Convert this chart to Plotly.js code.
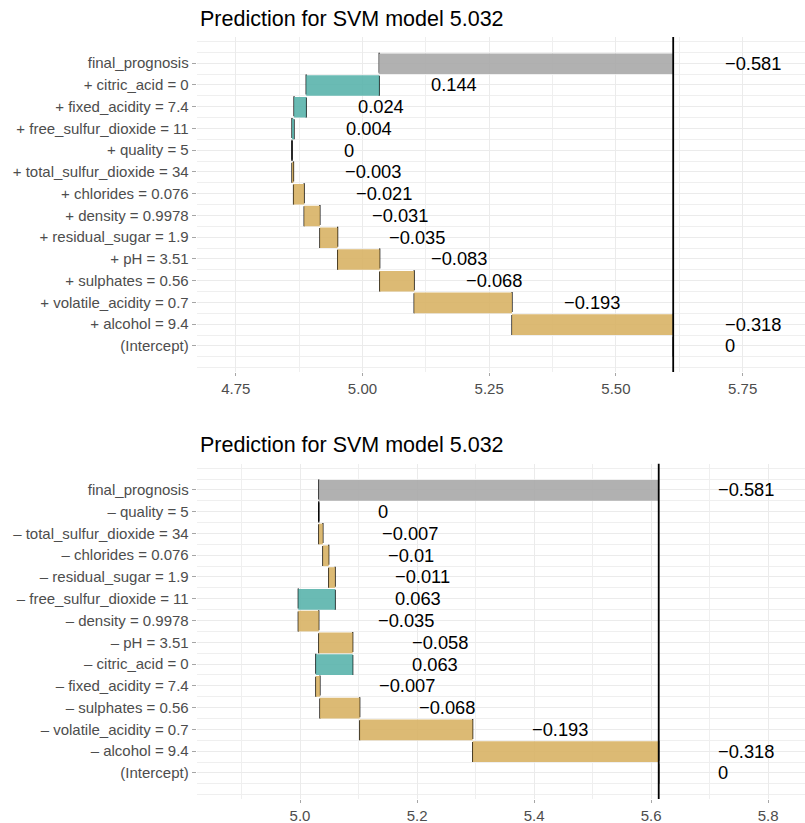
<!DOCTYPE html>
<html><head><meta charset="utf-8">
<script src="https://cdn.plot.ly/plotly-3.0.1.min.js"></script>
<style>html,body{margin:0;padding:0;background:#fff}#chart{width:805px;height:823px}</style>
</head><body><div id="chart"></div>
<script>
const titleText = "Prediction for SVM model 5.032";
const intercept = 5.613;

// rows listed from bottom (Intercept) to top (final_prognosis)
const topLabels = ["(Intercept)", "+ alcohol = 9.4", "+ volatile_acidity = 0.7", "+ sulphates = 0.56",
  "+ pH = 3.51", "+ residual_sugar = 1.9", "+ density = 0.9978", "+ chlorides = 0.076",
  "+ total_sulfur_dioxide = 34", "+ quality = 5", "+ free_sulfur_dioxide = 11",
  "+ fixed_acidity = 7.4", "+ citric_acid = 0", "final_prognosis"];
const topValues = [0, -0.318, -0.193, -0.068, -0.083, -0.035, -0.031, -0.021, -0.003, 0, 0.004, 0.024, 0.144, -0.581];

const bottomLabels = ["(Intercept)", "\u2013 alcohol = 9.4", "\u2013 volatile_acidity = 0.7", "\u2013 sulphates = 0.56",
  "\u2013 fixed_acidity = 7.4", "\u2013 citric_acid = 0", "\u2013 pH = 3.51", "\u2013 density = 0.9978",
  "\u2013 free_sulfur_dioxide = 11", "\u2013 residual_sugar = 1.9", "\u2013 chlorides = 0.076",
  "\u2013 total_sulfur_dioxide = 34", "\u2013 quality = 5", "final_prognosis"];
const bottomValues = [0, -0.318, -0.193, -0.068, -0.007, 0.063, -0.058, -0.035, 0.063, -0.011, -0.01, -0.007, 0, -0.581];

const topTicks = [4.75, 5.00, 5.25, 5.50, 5.75];
const bottomTicks = [5.0, 5.2, 5.4, 5.6, 5.8];

const COL_POS = "rgba(90,180,172,0.9)";
const COL_NEG = "rgba(216,179,101,0.9)";
const COL_FIN = "rgba(169,169,169,0.9)";
const FONT = "Liberation Sans, Arial, Helvetica, sans-serif";

function fmt(v) { return v < 0 ? "\u2212" + String(-v) : String(v); }

const traces = [], shapes = [], annotations = [];

function panel(labels, values, xa, ya) {
  const n = labels.length;
  let c = intercept;
  const starts = [], ends = [];
  for (let k = 0; k < n; k++) {
    let s, e;
    if (k === 0) { s = intercept; e = intercept; }
    else if (k === n - 1) { s = intercept; e = intercept + values[k]; }
    else { s = c; e = c + values[k]; c = e; }
    starts.push(s); ends.push(e);
  }
  const ys = labels.map((_, k) => k);
  // dashed connectors (under bars)
  for (let k = 0; k < n - 1; k++) {
    shapes.push({type: "line", xref: xa, yref: ya, x0: ends[k], x1: ends[k], y0: k - 0.5, y1: k + 1.5,
      layer: "between", line: {color: "#000", width: 1.2, dash: "20px,3px"}});
  }
  traces.push({
    type: "bar", orientation: "h", xaxis: xa, yaxis: ya,
    y: ys, x: starts.map((s, k) => Math.abs(ends[k] - s)), base: starts.map((s, k) => Math.min(s, ends[k])),
    width: 0.95, offset: -0.5,
    marker: {color: values.map((v, k) => k === n - 1 ? COL_FIN : (v > 0 ? COL_POS : (v < 0 ? COL_NEG : "rgba(245,245,245,0.9)"))), line: {width: 0}},
    hoverinfo: "skip", showlegend: false
  });
  for (let k = 0; k < n; k++) {
    annotations.push({xref: xa, yref: ya, x: Math.max(starts[k], ends[k]) + 0.1, y: k, text: fmt(values[k]),
      showarrow: false, xanchor: "left", yanchor: "middle", borderpad: 0,
      font: {family: FONT, size: 18.3, color: "#000"}});
  }
  shapes.push({type: "line", xref: xa, yref: ya + " domain", x0: intercept, x1: intercept, y0: 0, y1: 1,
    layer: "above", line: {color: "#000", width: 1.8}});
}

panel(topLabels, topValues, "x", "y");
panel(bottomLabels, bottomValues, "x2", "y2");

const X0 = 196.7 / 805;
annotations.push({xref: "paper", yref: "paper", x: 198 / 805, y: 1 - 19 / 823, xanchor: "left", yanchor: "middle",
  text: titleText, showarrow: false, font: {family: FONT, size: 21.5, color: "#000"}});
annotations.push({xref: "paper", yref: "paper", x: 198 / 805, y: 1 - 445 / 823, xanchor: "left", yanchor: "middle",
  text: titleText, showarrow: false, font: {family: FONT, size: 21.5, color: "#000"}});

const tickFont = {family: FONT, size: 15, color: "#4D4D4D"};
function xaxis(range, ticks, dec, minorD, anchor) {
  return {domain: [X0, 1], range: range, anchor: anchor, tickmode: "array", tickvals: ticks,
    ticktext: ticks.map(t => t.toFixed(dec)), ticks: "outside", ticklen: 3, tickcolor: "#A6A6A6", tickwidth: 1,
    showgrid: true, gridcolor: "#EBEBEB", gridwidth: 1, zeroline: false, showline: false,
    minor: {tickmode: "linear", tick0: ticks[0] - minorD, dtick: 2 * minorD, showgrid: true, gridcolor: "#EFEFEF", gridwidth: 1, ticks: ""},
    tickfont: tickFont, fixedrange: true};
}
function yaxis(domain, labels, anchor) {
  const minorVals = [-1, 14];
  labels.forEach((_, k) => { if (k > 0) minorVals.push(k - 0.5); });
  minorVals.push(-0.5, labels.length - 0.5);
  return {domain: domain, range: [-1.2, 14.2], anchor: anchor, tickmode: "array", tickvals: labels.map((_, k) => k),
    ticktext: labels, ticks: "outside", ticklen: 4, tickcolor: "#A6A6A6", tickwidth: 1,
    showgrid: true, gridcolor: "#EBEBEB", gridwidth: 1, zeroline: false, showline: false,
    minor: {tickmode: "array", tickvals: minorVals, showgrid: true, gridcolor: "#EFEFEF", gridwidth: 1, ticks: ""},
    tickfont: tickFont, fixedrange: true};
}

const layout = {
  width: 805, height: 823, margin: {l: 0, r: 0, t: 0, b: 0}, paper_bgcolor: "#fff", plot_bgcolor: "#fff",
  font: {family: FONT}, showlegend: false, hovermode: false, barmode: "overlay",
  xaxis: xaxis([4.673, 5.873], topTicks, 2, 0.125, "y"),
  yaxis: yaxis([1 - 372 / 823, 1 - 37.1 / 823], topLabels, "x"),
  xaxis2: xaxis([4.8234, 5.863], bottomTicks, 1, 0.1, "y2"),
  yaxis2: yaxis([1 - 799 / 823, 1 - 463.8 / 823], bottomLabels, "x2"),
  shapes: shapes, annotations: annotations
};
Plotly.newPlot("chart", traces, layout, {displayModeBar: false, staticPlot: true});
</script></body></html>
